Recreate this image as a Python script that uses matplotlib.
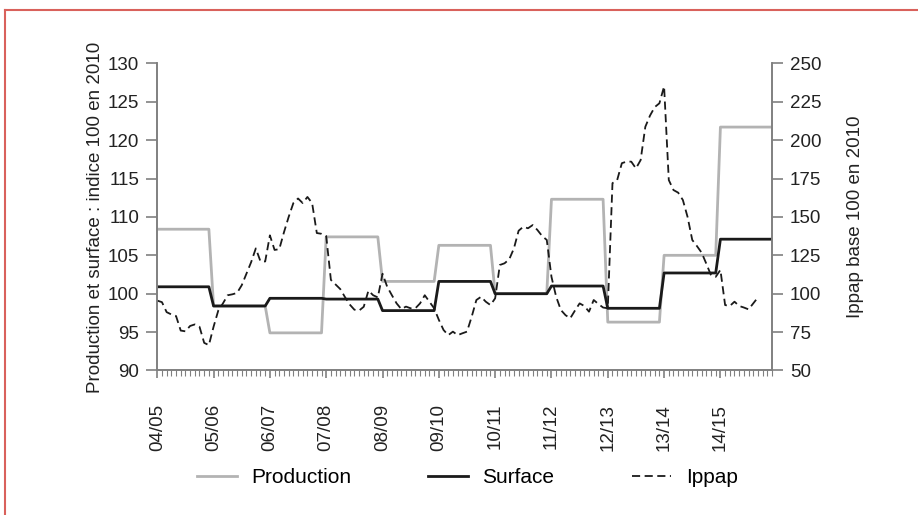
import numpy as np
import matplotlib.pyplot as plt
from matplotlib.lines import Line2D

plt.rcParams["font.family"] = ["Liberation Sans", "DejaVu Sans"]

# campagnes (juillet-juin), une valeur par campagne
campaigns = ["04/05", "05/06", "06/07", "07/08", "08/09", "09/10",
             "10/11", "11/12", "12/13", "13/14", "14/15"]
production = [108.4, 98.4, 94.9, 107.4, 101.6, 106.3, 100.0, 112.3, 96.3, 105.0, 121.7]
surface = [100.9, 98.4, 99.4, 99.3, 97.8, 101.6, 100.0, 101.0, 98.1, 102.7, 107.1]

# Ippap mensuel, base 100 en 2010
ippap = [95.5, 94.5, 88, 86.5, 85.5, 76, 75.5, 79, 80, 78.5, 68, 66.5,
         78.5, 89, 93.7, 99, 99.6, 100.5, 105.5, 113, 120.5, 129.5, 121, 121,
         138, 128.5, 129, 140, 150, 159, 162, 159, 163, 159, 139.5, 139,
         137.5, 109, 106, 103, 97.8, 93, 89.6, 89, 91.5, 102, 99, 97.6,
         113, 104.5, 99, 93.7, 90, 91.6, 90.5, 90.5, 93.7, 99, 94.8, 90.5,
         83, 76.4, 73, 75.3, 73, 74.2, 75.3, 85, 95.9, 98, 94.8, 92.6,
         97, 118.7, 119.8, 122.4, 129.5, 141, 143.6, 142.6, 144.7, 141.5, 137.6, 135,
         111, 98, 89.4, 86, 84, 89, 93.7, 92, 88.3, 95.9, 93.3, 91,
         90.5, 172, 174, 185, 186, 186, 181.6, 187, 208.7, 216, 221.5, 224,
         235, 174, 167.5, 165.8, 161, 150, 135, 131, 126.7, 119.5, 112, 111,
         115.5, 92.6, 92, 94.8, 92, 91, 89.8, 93.7, 97.6]

months_per_year = 12
prod_m = np.repeat(production, months_per_year)
surf_m = np.repeat(surface, months_per_year)
x = np.arange(len(prod_m))
x_ip = np.arange(len(ippap))

fig = plt.figure(figsize=(9.18, 5.15), dpi=100)
ax = fig.add_axes([0.1713, 0.2806, 0.6697, 0.5964])
ax2 = ax.twinx()

l1, = ax.plot(x, prod_m, color="#b3b3b3", lw=2.0, label="Production")
l2, = ax.plot(x, surf_m, color="#1a1a1a", lw=2.0, label="Surface")
l3, = ax2.plot(x_ip, ippap, color="#1a1a1a", lw=1.3, ls=(0, (4.5, 2.5)), label="Ippap")

ax.set_xlim(0, len(prod_m) - 1)
ax.set_ylim(90, 130)
ax.set_yticks(np.arange(90, 131, 5))
ax2.set_ylim(50, 250)
ax2.set_yticks(np.arange(50, 251, 25))

ax.set_xticks(np.arange(0, len(prod_m), 12))
ax.set_xticklabels(campaigns, rotation=90)
ax.set_xticks(np.arange(0, len(prod_m)), minor=True)

gray = "#808080"
for a in (ax, ax2):
    a.spines["top"].set_visible(False)
    for s in ("left", "right", "bottom"):
        a.spines[s].set_color(gray)
        a.spines[s].set_linewidth(1.2)
ax.tick_params(axis="y", direction="out", length=8, width=1.2, color=gray,
               labelsize=13.5, labelcolor="#222222", pad=5)
ax2.tick_params(axis="y", direction="out", length=8, width=1.2, color=gray,
                labelsize=13.5, labelcolor="#222222", pad=5)
ax.tick_params(axis="x", which="major", direction="out", length=6, width=1.2,
               color=gray, labelsize=13.5, labelcolor="#222222", pad=18)
ax.tick_params(axis="x", which="minor", direction="out", length=4, width=0.8, color=gray)

ax.set_ylabel("Production et surface : indice 100 en 2010", fontsize=13.5,
              color="#222222", labelpad=3)
ax2.set_ylabel("Ippap base 100 en 2010", fontsize=13.5, color="#222222", labelpad=18)

fig.legend(handles=[l1, l2, l3], loc="center", bbox_to_anchor=(0.509, 0.072),
           ncol=3, frameon=False, fontsize=15, handlelength=1.9,
           columnspacing=3.7, handletextpad=0.7)

# cadre rouge autour du graphique
fig.add_artist(Line2D([0.005, 1.0], [0.981, 0.981], color="#d9615c", lw=1.5))
fig.add_artist(Line2D([0.005, 0.005], [0.0, 0.981], color="#d9615c", lw=1.5))

fig.savefig("out.png", dpi=100, facecolor="white")
